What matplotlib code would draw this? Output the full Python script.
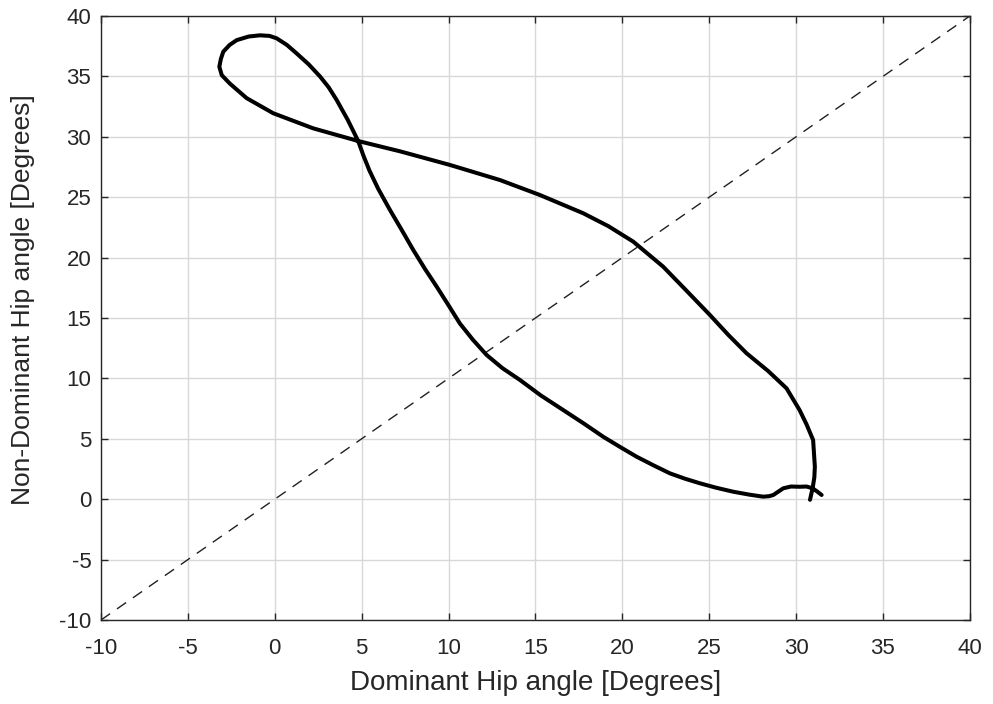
import matplotlib
matplotlib.use("Agg")
import matplotlib.pyplot as plt

# hip-hip cyclogram, one gait cycle (degrees)
dominant_hip = [
    30.8, 30.95, 31.05, 31.08, 30.98, 30.6, 30.2, 29.45, 28.4, 27.15,
    26.1, 25.04, 23.7, 22.35, 20.63, 19.2, 17.75, 15.26, 12.96, 10.08,
    7.2, 4.8, 2.21, -0.09, -1.62, -2.58, -3.05, -3.19, -3.1, -2.96,
    -2.6, -2.19, -1.5, -0.85, -0.3, 0.11, 0.7, 1.26, 1.95, 2.6,
    3.1, 3.56, 4.2, 4.8, 5.1, 5.45, 5.95, 6.63, 7.3, 7.97, 8.65,
    9.32, 10.0, 10.65, 11.4, 12.19, 13.1, 14.11, 15.3, 16.6, 17.8,
    18.9, 19.9, 20.82, 21.8, 22.74, 23.6, 24.46, 25.4, 26.38, 27.3,
    28.1, 28.45, 28.69, 29.0, 29.26, 29.7, 30.2, 30.6, 30.95, 31.2,
    31.47,
]
non_dominant_hip = [
    -0.05, 0.9, 1.8, 2.69, 4.9, 6.2, 7.38, 9.18, 10.6, 12.08,
    13.6, 15.25, 17.25, 19.25, 21.32, 22.6, 23.67, 25.18, 26.42, 27.67,
    28.8, 29.65, 30.7, 31.95, 33.2, 34.4, 35.1, 35.8, 36.45, 37.05,
    37.6, 38.0, 38.3, 38.4, 38.35, 38.15, 37.6, 36.9, 36.0, 35.0,
    34.1, 33.05, 31.4, 29.65, 28.45, 27.2, 25.7, 23.94, 22.3, 20.63, 19.05,
    17.59, 16.05, 14.55, 13.2, 11.94, 10.85, 9.87, 8.6, 7.38, 6.25,
    5.17, 4.3, 3.52, 2.8, 2.14, 1.7, 1.32, 0.95, 0.62, 0.38,
    0.21, 0.25, 0.35, 0.65, 0.9, 1.05, 1.03, 1.05, 0.9, 0.65,
    0.35,
]
identity = [-10, 40]
ticks = list(range(-10, 41, 5))

plt.rcParams["font.family"] = ["Liberation Sans", "DejaVu Sans"]
plt.rcParams["axes.unicode_minus"] = False
text_col = "#262626"

fig = plt.figure(figsize=(9.93, 7.04), dpi=100)
ax = fig.add_axes([0.1017, 0.1193, 0.875, 0.858])

ax.plot(identity, identity, color="#202020", linestyle=(0, (8, 6)), linewidth=1.0)
ax.plot(dominant_hip, non_dominant_hip, color="black", linewidth=2.9,
        solid_joinstyle="round", solid_capstyle="round")

ax.set_xlim(-10, 40)
ax.set_ylim(-10, 40)
ax.set_xticks(ticks)
ax.set_yticks(ticks)
ax.grid(True, color="#d8d8d8", linewidth=1.0)
ax.set_axisbelow(True)
ax.tick_params(direction="in", length=5, width=1.0, top=True, right=True,
               labelsize=16, colors=text_col)
ax.tick_params(axis="x", pad=13)
ax.tick_params(axis="y", pad=7)
for sp in ax.spines.values():
    sp.set_color(text_col)
    sp.set_linewidth(1.0)

ax.set_xlabel("Dominant Hip angle [Degrees]", fontsize=20, color=text_col)
ax.set_ylabel("Non-Dominant Hip angle [Degrees]", fontsize=19, color=text_col)
ax.xaxis.set_label_coords(0.5, -0.105)
ax.xaxis.label.set_va("center")
ax.yaxis.set_label_coords(-0.09, 0.53)
ax.yaxis.label.set_va("center")

fig.savefig("out.png", dpi=100)
